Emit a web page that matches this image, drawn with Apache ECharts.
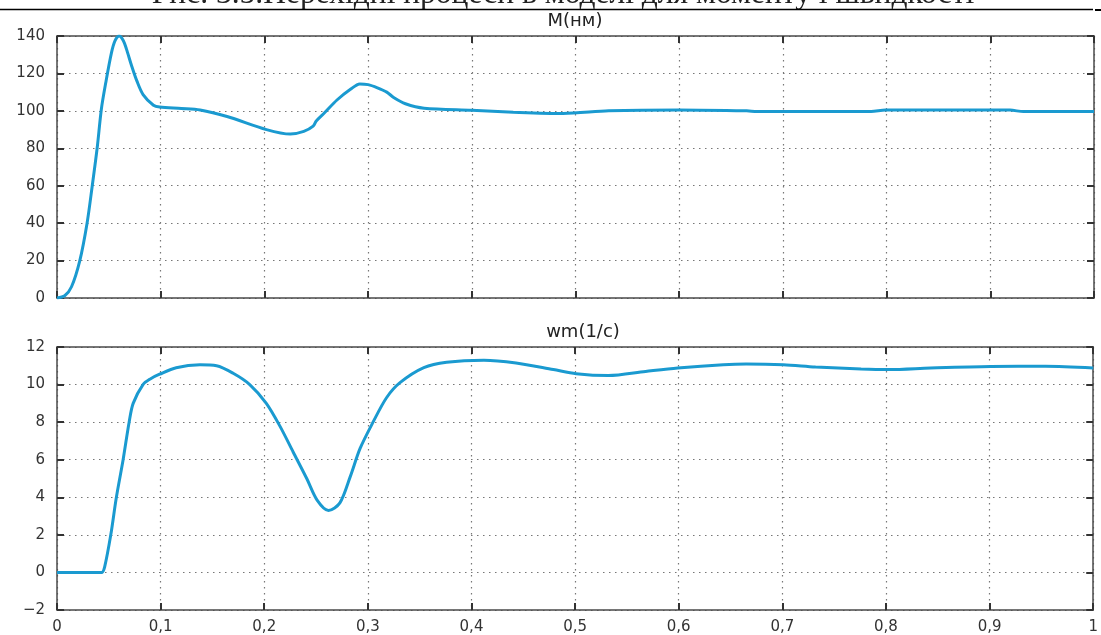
<!DOCTYPE html>
<html>
<head>
<meta charset="utf-8">
<script src="https://cdn.jsdelivr.net/npm/echarts@6/dist/echarts.min.js"></script>
<style>
html,body{margin:0;padding:0;background:#fff;}
#chart{width:1101px;height:635px;}
</style>
</head>
<body>
<div id="chart"></div>
<script>
// Time values (s) and torque M (Nm)
const tM = [0,0.0074,0.014,0.022,0.029,0.034,0.0387,0.0428,0.047,0.0525,0.056,0.06,0.064,0.067,0.072,0.077,0.083,0.093,0.099,0.12,0.138,0.164,0.202,0.225,0.238,0.247,0.25,0.258,0.27,0.283,0.292,0.3,0.309,0.318,0.325,0.336,0.354,0.4,0.44,0.488,0.532,0.6,0.665,0.675,0.785,0.799,0.919,0.932,1.0];
const vM = [0,1.2,6,20,40,60,80,101,115,131,137.5,140,137.5,133,124,116,108.7,103,102,101.3,100.5,97,90,87.6,89,91.8,94.6,99,105.8,111.5,114.4,114,112.3,110,107,103.8,101.4,100.3,99.3,98.6,100,100.5,100,99.6,99.6,100.4,100.4,99.6,99.6];
// Time values (s) and speed wm (1/c)
const tW = [0,0.043,0.046,0.0519,0.0573,0.0638,0.0696,0.0735,0.083,0.09,0.099,0.115,0.138,0.154,0.17,0.186,0.202,0.215,0.228,0.241,0.251,0.262,0.273,0.283,0.2925,0.305,0.318,0.331,0.354,0.376,0.412,0.443,0.479,0.501,0.532,0.568,0.599,0.643,0.665,0.701,0.732,0.776,0.803,0.843,0.901,0.954,1.0];
const vW = [0,0,0.3,2,4,6,8,9,10,10.3,10.55,10.9,11.05,11.0,10.6,10.0,9.0,7.8,6.4,5.0,3.85,3.3,3.7,5.1,6.6,8.0,9.3,10.1,10.9,11.19,11.3,11.15,10.8,10.58,10.48,10.7,10.88,11.06,11.1,11.06,10.94,10.83,10.8,10.88,10.96,10.97,10.88];
// Axis tick settings / labels
const xTicks = [0,0.1,0.2,0.3,0.4,0.5,0.6,0.7,0.8,0.9,1];
const mTicks = [0,20,40,60,80,100,120,140];
const wTicks = [-2,0,2,4,6,8,10,12];
const titleM = 'M(нм)';
const titleW = 'wm(1/c)';
const captionText = 'Рис. 3.5.Перехідні процеси в моделі для моменту і швидкості';

const lineColor = '#1a9ad0';
const axisColor = '#4a4a4a';
const labelFont = {fontFamily:'DejaVu Sans', fontSize:15, color:'#333'};

function fmt(v){
  let s = String(Math.round(v*1000)/1000).replace('.', ',');
  if (v < 0) s = '\u2212' + s.slice(1);
  return s;
}

function xAxisPair(gi, showLabels){
  const base = {
    type:'value', gridIndex:gi, min:xTicks[0], max:xTicks[xTicks.length-1], interval:0.1,
    axisLine:{show:true, onZero:false, lineStyle:{color:axisColor, width:1.5}},
    axisTick:{show:true, inside:true, length:7, lineStyle:{color:'#333', width:2}},
  };
  return [
    Object.assign({}, base, {
      position:'bottom',
      axisLabel:{show:showLabels, margin:10, formatter:fmt, ...labelFont},
      splitLine:{show:true, lineStyle:{color:'#777', type:[1.5,4.5], width:1.2}}
    }),
    Object.assign({}, base, {
      position:'top',
      axisLabel:{show:false},
      splitLine:{show:false}
    })
  ];
}

function yAxisPair(gi, ticks){
  const base = {
    type:'value', gridIndex:gi, min:ticks[0], max:ticks[ticks.length-1], interval:ticks[1]-ticks[0],
    axisLine:{show:true, onZero:false, lineStyle:{color:axisColor, width:1.5}},
    axisTick:{show:true, inside:true, length:7, lineStyle:{color:'#333', width:2}},
  };
  return [
    Object.assign({}, base, {
      position:'left',
      axisLabel:{show:true, margin:12, formatter:fmt, ...labelFont},
      splitLine:{show:true, lineStyle:{color:'#777', type:[1.5,4.5], width:1.2}}
    }),
    Object.assign({}, base, {
      position:'right',
      axisLabel:{show:false},
      splitLine:{show:false}
    })
  ];
}

const chart = echarts.init(document.getElementById('chart'), null, {renderer:'canvas'});
const option = {
  backgroundColor:'#ffffff',
  animation:false,
  grid:[
    {left:57, right:7, top:36, height:262},
    {left:57, right:7, top:347, height:263}
  ],
  xAxis:[...xAxisPair(0,false), ...xAxisPair(1,true)],
  yAxis:[...yAxisPair(0,mTicks), ...yAxisPair(1,wTicks)],
  series:[
    {type:'line', xAxisIndex:0, yAxisIndex:0, data:tM.map((t,i)=>[t,vM[i]]),
     showSymbol:false, smooth:0.3, lineStyle:{color:lineColor, width:3}, z:5},
    {type:'line', xAxisIndex:2, yAxisIndex:2, data:tW.map((t,i)=>[t,vW[i]]),
     showSymbol:false, smooth:0.3, lineStyle:{color:lineColor, width:3}, z:5}
  ],
  graphic:[
    {type:'text', x:563, y:-5, style:{text:captionText, font:'31.5px "Liberation Serif"', fill:'#222', align:'center', verticalAlign:'middle'}},
    {type:'line', shape:{x1:0, y1:9.5, x2:1093, y2:9.5}, style:{stroke:'#000', lineWidth:1.5}},
    {type:'line', shape:{x1:1095, y1:10, x2:1101, y2:10}, style:{stroke:'#000', lineWidth:2}},
    {type:'text', x:575, y:21, style:{text:titleM, font:'18px "DejaVu Sans"', fill:'#222', align:'center', verticalAlign:'middle'}},
    {type:'text', x:583, y:332, style:{text:titleW, font:'18px "DejaVu Sans"', fill:'#222', align:'center', verticalAlign:'middle'}}
  ]
};
chart.setOption(option);
</script>
</body>
</html>
